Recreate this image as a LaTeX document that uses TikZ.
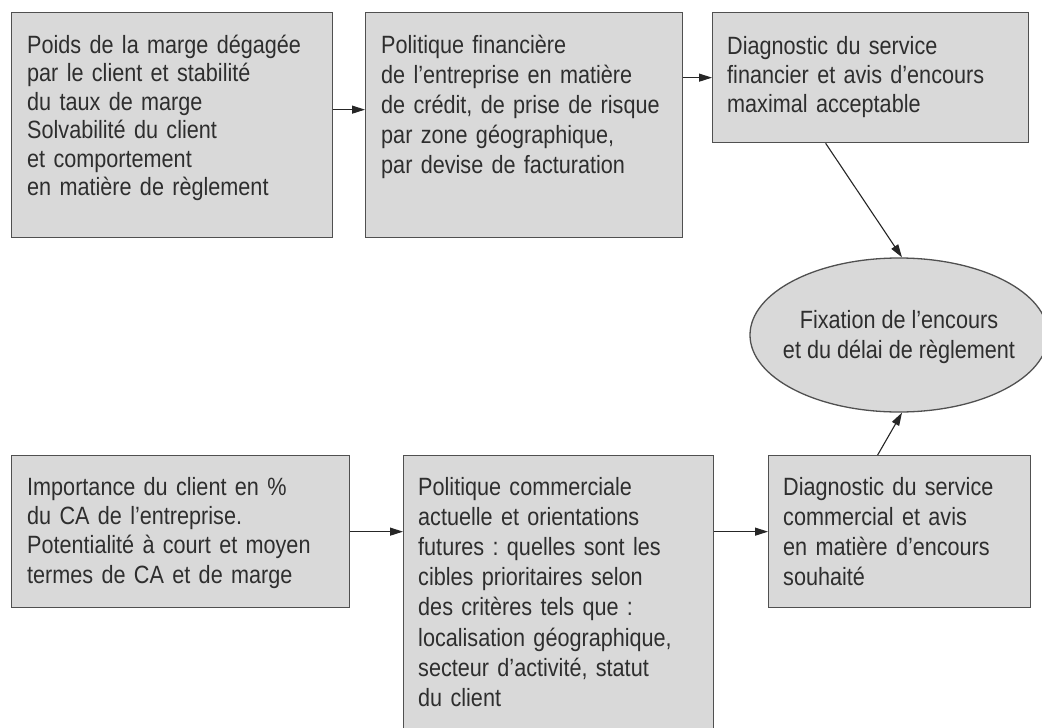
\documentclass[tikz,border=0pt]{standalone}
\usepackage{fontspec}
\setmainfont{Liberation Sans}[FakeStretch=0.865]
\frenchspacing
\usetikzlibrary{arrows.meta,shapes.geometric}
\definecolor{boxfill}{HTML}{D9D9D9}
\definecolor{boxline}{HTML}{505050}
\definecolor{txt}{HTML}{2E2E2E}
\begin{document}
\begin{tikzpicture}[x=1pt,y=-1pt,
  box/.style={draw=boxline,fill=boxfill,line width=1.3pt,rectangle,anchor=north west,inner sep=0pt},
  boxtext/.style={anchor=base west,inner sep=0pt,text=txt,align=left,text width=330pt,font=\fontsize{25}{#1}\selectfont},
  arr/.style={draw=black!85,line width=1.1pt,-{Triangle[length=13pt,width=8pt]}},
  oval/.style={draw=boxline,fill=boxfill,line width=1.3pt,ellipse,inner sep=0pt,minimum width=298pt,minimum height=154pt},
  ovaltext/.style={inner sep=0pt,text=txt,align=center,font=\fontsize{25}{30}\selectfont}
]
\clip (0,0) rectangle (1042,728);
\fill[white] (0,0) rectangle (1042,728);

\node[box,minimum width=321pt,minimum height=225pt] (b1) at (11,12) {};
\node[box,minimum width=317pt,minimum height=225pt] (b2) at (365,12) {};
\node[box,minimum width=316pt,minimum height=130pt] (b3) at (712,12) {};
\node[box,minimum width=338pt,minimum height=152pt] (b4) at (11,455) {};
\node[box,minimum width=310pt,minimum height=300pt] (b5) at (403,455) {};
\node[box,minimum width=262pt,minimum height=152pt] (b6) at (768,455) {};
\node[oval] (e) at (899,335) {};
\node[ovaltext] (te) at ([yshift=-2pt]e.center) {Fixation de l’encours\\et du délai de règlement};

\node[boxtext=28.5] (t1) at ([shift={(16pt,-41pt)}]b1.north west) {Poids de la marge dégagée\\par le client et stabilité\\du taux de marge\\Solvabilité du client\\et comportement\\en matière de règlement};
\node[boxtext=30] (t2) at ([shift={(16pt,-41pt)}]b2.north west) {Politique financière\\de l’entreprise en matière\\de crédit, de prise de risque\\par zone géographique,\\par devise de facturation};
\node[boxtext=29] (t3) at ([shift={(15pt,-42pt)}]b3.north west) {Diagnostic du service\\financier et avis d’encours\\maximal acceptable};
\node[boxtext=29.4] (t4) at ([shift={(16pt,-40pt)}]b4.north west) {Importance du client en \%\\du CA de l’entreprise.\\Potentialité à court et moyen\\termes de CA et de marge};
\node[boxtext=30.2] (t5) at ([shift={(15pt,-40pt)}]b5.north west) {Politique commerciale\\actuelle et orientations\\futures : quelles sont les\\cibles prioritaires selon\\des critères tels que :\\localisation géographique,\\secteur d’activité, statut\\du client};
\node[boxtext=30] (t6) at ([shift={(15pt,-40pt)}]b6.north west) {Diagnostic du service\\commercial et avis\\en matière d’encours\\souhaité};

\draw[arr] ([yshift=15.5pt]b1.east) -- ([yshift=15.5pt]b2.west);
\draw[arr] (b2.east |- b3.west) -- (b3.west);
\draw[arr] ([xshift=-45pt]b3.south) -- ([xshift=3pt]e.north);
\draw[arr] (b4.east) -- (b5.west |- b4.east);
\draw[arr] (b5.east |- b6.west) -- (b6.west);
\draw[arr] ([xshift=-22pt]b6.north) -- ([xshift=3pt]e.south);
\end{tikzpicture}
\end{document}
